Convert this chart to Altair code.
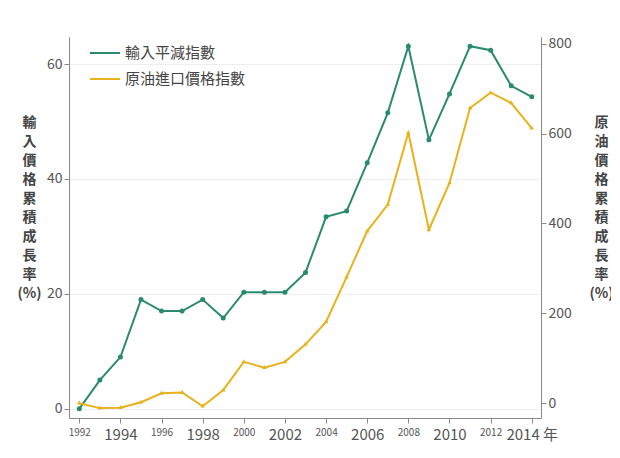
import altair as alt
import pandas as pd

years = list(range(1992, 2015))
deflator = [0, 5, 9, 19, 17, 17, 19, 15.8, 20.3, 20.3, 20.3, 23.7, 33.4, 34.4,
            42.8, 51.5, 63.1, 46.8, 54.8, 63.1, 62.4, 56.2, 54.3]
oil = [0, -11, -10, 2, 22, 24, -7, 29, 92, 79, 92, 131, 181, 281,
       383, 442, 602, 386, 490, 657, 691, 668, 612]
series = ["輸入平減指數", "原油進口價格指數"]
colors = ["#2a8a6f", "#e8b21a"]

d1 = pd.DataFrame({"year": years, "v": deflator, "s": series[0]})
d2 = pd.DataFrame({"year": years, "v": oil, "s": series[1]})

FONT = "Noto Sans CJK TC"
color = alt.Color("s:N", scale=alt.Scale(domain=series, range=colors),
                  legend=alt.Legend(title=None, orient="none", legendX=20, legendY=0,
                                    labelFontSize=15, symbolType="stroke",
                                    symbolSize=900, symbolStrokeWidth=2,
                                    labelColor="#444"))
x = alt.X("year:Q", title=None, scale=alt.Scale(domain=[1991.5, 2014.45], nice=False),
          axis=alt.Axis(values=years[::2], grid=False, labelColor="#555",
                        labelExpr="datum.value == 2014 ? '2014 年' : datum.value",
                        labelFontSize={"condition": {"test": "datum.value % 4 == 0", "value": 10}, "value": 15},
                        tickColor="#888", domainColor="#888", labelPadding=4))

title_common = dict(titleAngle=0, titleAlign="center", titleBaseline="top",
                    titleY=78, titleFontSize=14, titleFontWeight="bold",
                    titleLineHeight=19, titleColor="#444", labelFontSize=14,
                    labelColor="#555", tickColor="#888", domainColor="#888")

left = alt.Chart(d1).mark_line(strokeWidth=2, point=alt.OverlayMarkDef(size=25, filled=True)).encode(
    x=x,
    y=alt.Y("v:Q", scale=alt.Scale(domain=[-1.6, 64.7], nice=False),
            axis=alt.Axis(values=[0, 20, 40, 60], title=list("輸入價格累積成長率") + ["(%)"],
                          titleX=-40, gridColor="#eee", **title_common)),
    color=color,
)
right = alt.Chart(d2).mark_line(strokeWidth=2, point=alt.OverlayMarkDef(size=20, filled=True, shape="triangle")).encode(
    x=x,
    y=alt.Y("v:Q", scale=alt.Scale(domain=[-33, 815], nice=False),
            axis=alt.Axis(orient="right", values=[0, 200, 400, 600, 800], grid=False,
                          title=list("原油價格累積成長率") + ["(%)"],
                          titleX=60, **title_common)),
    color=color,
)

chart = alt.layer(left, right).resolve_scale(y="independent").properties(
    width=472, height=381, padding={"left": 61, "top": 29, "right": 70, "bottom": 40},
    autosize=alt.AutoSizeParams(type="none"),
).configure(font=FONT).configure_view(stroke=None)

chart.save("out.html", embed_options={"renderer": "svg", "actions": False})
